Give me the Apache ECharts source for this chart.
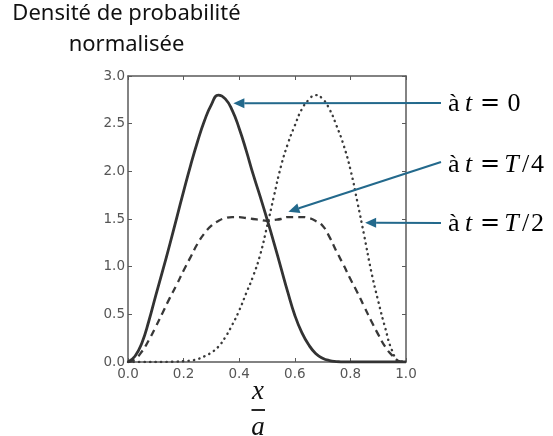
<!DOCTYPE html>
<html>
<head>
<meta charset="utf-8">
<script src="https://cdn.jsdelivr.net/npm/echarts@6/dist/echarts.min.js"></script>
<style>
  html, body { margin: 0; padding: 0; background: #ffffff; }
  #chart { width: 553px; height: 436px; }
</style>
</head>
<body>
<div id="chart"></div>
<script>
// Position x/a where each density curve is sampled
const xPositions = [
  0, 0.025, 0.05, 0.075, 0.1, 0.125, 0.15, 0.175, 0.2, 0.225,
  0.25, 0.275, 0.3, 0.325, 0.35, 0.375, 0.4, 0.425, 0.45, 0.475,
  0.5, 0.525, 0.55, 0.575, 0.6, 0.625, 0.65, 0.675, 0.7, 0.725,
  0.75, 0.775, 0.8, 0.825, 0.85, 0.875, 0.9, 0.925, 0.95, 0.975, 1.0
];

// Normalised probability density at t = 0
const densityT0 = [
  0, 0.06, 0.20, 0.43, 0.70, 0.96, 1.23, 1.51, 1.79, 2.06,
  2.31, 2.53, 2.70, 2.80, 2.76, 2.64, 2.45, 2.22, 1.97, 1.74,
  1.50, 1.25, 0.99, 0.73, 0.49, 0.31, 0.18, 0.09, 0.04, 0.015,
  0.005, 0, 0, 0, 0, 0, 0, 0, 0, 0, 0
];

// Normalised probability density at t = T/4
const densityTQuarter = [
  0, 0.03, 0.11, 0.23, 0.37, 0.52, 0.67, 0.81, 0.96, 1.10,
  1.24, 1.35, 1.43, 1.48, 1.51, 1.52, 1.52, 1.51, 1.50, 1.49,
  1.48, 1.49, 1.50, 1.52, 1.52, 1.52, 1.51, 1.48, 1.43, 1.31,
  1.16, 1.02, 0.87, 0.73, 0.58, 0.43, 0.29, 0.16, 0.07, 0.01, 0
];

// Normalised probability density at t = T/2
const densityTHalf = [
  0, 0, 0, 0, 0, 0.001, 0.002, 0.004, 0.008, 0.015,
  0.03, 0.06, 0.10, 0.16, 0.26, 0.39, 0.54, 0.72, 0.90, 1.12,
  1.42, 1.74, 2.05, 2.29, 2.48, 2.65, 2.75, 2.80, 2.76, 2.65,
  2.48, 2.28, 2.02, 1.68, 1.32, 0.95, 0.64, 0.36, 0.12, 0.01, 0
];

const titleLines = ['Densité de probabilité', 'normalisée'];

const pairs = ys => xPositions.map((x, i) => [x, ys[i]]);

const frameColor = '#5a5a5a';
const curveColor = '#333333';
const arrowColor = '#23698c';

const chart = echarts.init(document.getElementById('chart'), null, { renderer: 'canvas' });

const axisCommon = {
  type: 'value',
  axisLine: { show: true, onZero: false, lineStyle: { color: frameColor, width: 1.5 } },
  axisTick: { show: true, inside: true, length: 4, lineStyle: { color: frameColor, width: 1 } },
  splitLine: { show: false }
};
const labelStyle = {
  color: '#555555',
  fontFamily: 'DejaVu Sans',
  fontSize: 13.5,
  formatter: v => v.toFixed(1)
};

chart.setOption({
  animation: false,
  backgroundColor: '#ffffff',
  grid: { left: 128, top: 76, width: 278, height: 286, containLabel: false },
  xAxis: [
    Object.assign({}, axisCommon, {
      position: 'bottom', min: 0, max: 1, interval: 0.2,
      axisLabel: Object.assign({}, labelStyle, { margin: 5, showMinLabel: true, showMaxLabel: true })
    }),
    Object.assign({}, axisCommon, {
      position: 'top', min: 0, max: 1, interval: 0.2,
      axisLabel: { show: false }
    })
  ],
  yAxis: [
    Object.assign({}, axisCommon, {
      position: 'left', min: 0, max: 3, interval: 0.5,
      axisLabel: Object.assign({}, labelStyle, { margin: 3, showMinLabel: true, showMaxLabel: true })
    }),
    Object.assign({}, axisCommon, {
      position: 'right', min: 0, max: 3, interval: 0.5,
      axisLabel: { show: false }
    })
  ],
  series: [
    {
      name: 't = T/2', type: 'line', xAxisIndex: 0, yAxisIndex: 0,
      data: pairs(densityTHalf), smooth: 0.5, showSymbol: false, z: 2,
      lineStyle: { color: '#3a3a3a', width: 2.4, type: [0.3, 5.2], cap: 'round' }
    },
    {
      name: 't = T/4', type: 'line', xAxisIndex: 0, yAxisIndex: 0,
      data: pairs(densityTQuarter), smooth: 0.5, showSymbol: false, z: 3,
      lineStyle: { color: '#383838', width: 2.3, type: [7, 5] }
    },
    {
      name: 't = 0', type: 'line', xAxisIndex: 0, yAxisIndex: 0,
      data: pairs(densityT0), smooth: 0.5, showSymbol: false, z: 4,
      lineStyle: { color: curveColor, width: 2.8 }
    }
  ]
});

// Arrow tips sit on the curves (data coordinates); tails start next to the labels.
const callouts = [
  { tip: [0.379, 2.714], tail: [441, 103], textY: 104, last: '0' },
  { tip: [0.577, 1.577], tail: [441, 162], textY: 165, last: 'T/4' },
  { tip: [0.853, 1.461], tail: [441, 223], textY: 224, last: 'T/2' }
];

const rich = {
  a: { fontFamily: 'Liberation Serif', fontSize: 26, color: '#111', width: 17, align: 'left' },
  t: { fontFamily: 'Liberation Serif', fontSize: 26, fontStyle: 'italic', color: '#111', width: 12, align: 'left' },
  e: { fontFamily: 'DejaVu Sans', fontSize: 24, color: '#111', width: 26, align: 'center' },
  z: { fontFamily: 'Liberation Serif', fontSize: 26, color: '#111', width: 22, align: 'center' },
  T: { fontFamily: 'Liberation Serif', fontSize: 26, fontStyle: 'italic', color: '#111', width: 17, align: 'left' },
  s: { fontFamily: 'Liberation Serif', fontSize: 26, color: '#111', width: 11, align: 'center' },
  n: { fontFamily: 'Liberation Serif', fontSize: 26, color: '#111', align: 'left' }
};

const graphics = [];

callouts.forEach(c => {
  const tip = chart.convertToPixel({ gridIndex: 0 }, c.tip);
  const dx = tip[0] - c.tail[0], dy = tip[1] - c.tail[1];
  const len = Math.hypot(dx, dy);
  const ux = dx / len, uy = dy / len;
  const headLen = 11, headHalf = 5;
  const bx = tip[0] - ux * headLen, by = tip[1] - uy * headLen;
  graphics.push({
    type: 'line', silent: true, z: 10,
    shape: { x1: c.tail[0], y1: c.tail[1], x2: bx, y2: by },
    style: { stroke: arrowColor, lineWidth: 2 }
  });
  graphics.push({
    type: 'polygon', silent: true, z: 10,
    shape: { points: [tip, [bx - uy * headHalf, by + ux * headHalf], [bx + uy * headHalf, by - ux * headHalf]] },
    style: { fill: arrowColor }
  });
  let text;
  if (c.last === '0') {
    text = '{a|à}{t|t}{e|=}{z|0}';
  } else {
    text = '{a|à}{t|t}{e|=}{T|T}{s|/}{n|' + c.last.slice(2) + '}';
  }
  graphics.push({
    type: 'text', silent: true, z: 10,
    x: 448, y: c.textY,
    style: { text: text, rich: rich, align: 'left', verticalAlign: 'middle', textAlign: 'left', textVerticalAlign: 'middle' }
  });
});

// Vertical axis title on two centred lines
titleLines.forEach((line, i) => {
  graphics.push({
    type: 'text', silent: true,
    x: 126.5, y: 25 + i * 31,
    style: {
      text: line, fill: '#111111', fontFamily: 'Noto Sans', fontSize: 22,
      align: 'center', verticalAlign: 'bottom', textAlign: 'center', textVerticalAlign: 'bottom'
    }
  });
});

// Horizontal axis title: the fraction x / a
graphics.push({
  type: 'text', silent: true, x: 258, y: 392,
  style: { text: 'x', fill: '#111111', fontFamily: 'Liberation Serif', fontStyle: 'italic', fontSize: 27,
           align: 'center', verticalAlign: 'middle', textAlign: 'center', textVerticalAlign: 'middle' }
});
graphics.push({
  type: 'line', silent: true,
  shape: { x1: 251.5, y1: 410, x2: 265, y2: 410 },
  style: { stroke: '#111111', lineWidth: 1.8 }
});
graphics.push({
  type: 'text', silent: true, x: 258, y: 428,
  style: { text: 'a', fill: '#111111', fontFamily: 'Liberation Serif', fontStyle: 'italic', fontSize: 27,
           align: 'center', verticalAlign: 'middle', textAlign: 'center', textVerticalAlign: 'middle' }
});

chart.setOption({ graphic: graphics });
</script>
</body>
</html>
